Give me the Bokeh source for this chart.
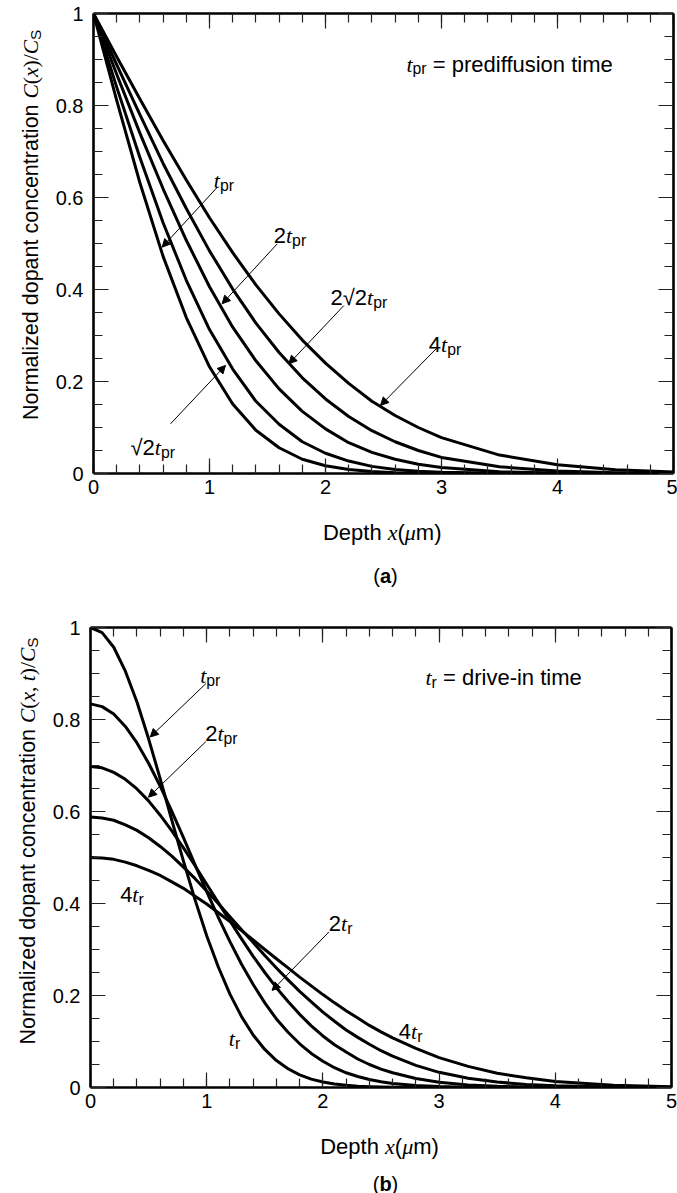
from bokeh.plotting import figure
from bokeh.models import Range1d, LinearAxis, FixedTicker, Label, Arrow, NormalHead
from bokeh.layouts import column, row
from bokeh.embed import file_html
from bokeh.resources import INLINE

# ---------------- data ----------------
# (a) prediffusion profiles, C(x)/Cs
depth_a = [0.0, 0.2, 0.4, 0.6, 0.8, 1.0, 1.2, 1.4, 1.6, 1.8, 2.0,
           2.2, 2.4, 2.6, 2.8, 3.0, 3.5, 4.0, 4.5, 5.0]
pre_tpr = [1.0, 0.811, 0.632, 0.472, 0.339, 0.232, 0.151, 0.094, 0.056, 0.031, 0.017,
           0.0085, 0.0042, 0.0019, 0.0009, 0.0004, 0.0, 0.0, 0.0, 0.0]
pre_sqrt2_tpr = [1.0, 0.840, 0.687, 0.545, 0.420, 0.313, 0.227, 0.157, 0.107, 0.069, 0.044,
                 0.027, 0.0155, 0.0088, 0.0047, 0.0025, 0.0004, 0.0, 0.0, 0.0]
pre_2tpr = [1.0, 0.868, 0.740, 0.619, 0.507, 0.406, 0.318, 0.245, 0.184, 0.135, 0.097,
            0.067, 0.046, 0.031, 0.020, 0.013, 0.0036, 0.0009, 0.0002, 0.0]
pre_2sqrt2_tpr = [1.0, 0.889, 0.780, 0.674, 0.576, 0.484, 0.401, 0.327, 0.263, 0.208, 0.162,
                  0.124, 0.093, 0.069, 0.050, 0.035, 0.0145, 0.0054, 0.0017, 0.0005]
pre_4tpr = [1.0, 0.906, 0.814, 0.724, 0.638, 0.556, 0.480, 0.410, 0.347, 0.290, 0.240,
            0.196, 0.157, 0.126, 0.100, 0.078, 0.040, 0.019, 0.0081, 0.0033]

# (b) drive-in profiles, C(x,t)/Cs
depth_b = [0.0, 0.1, 0.2, 0.3, 0.4, 0.5, 0.6, 0.7, 0.8, 0.9, 1.0, 1.1, 1.2, 1.3, 1.4,
           1.5, 1.6, 1.7, 1.8, 1.9, 2.0, 2.1, 2.2, 2.3, 2.4, 2.5, 2.6,
           2.8, 3.0, 3.25, 3.5, 3.75, 4.0, 4.5, 5.0]
drv_tpr = [1.0, 0.989, 0.957, 0.905, 0.838, 0.758, 0.671, 0.581, 0.492, 0.408, 0.330,
           0.262, 0.203, 0.154, 0.114, 0.0827, 0.0586, 0.0407, 0.0276, 0.0183, 0.0119,
           0.0075, 0.0047, 0.0028, 0.0017, 0.0010, 0.0006,
           0.0002, 0.0, 0.0, 0.0, 0.0, 0.0, 0.0, 0.0]
drv_tr = [0.834, 0.828, 0.812, 0.785, 0.749, 0.705, 0.655, 0.600, 0.543, 0.484, 0.426,
          0.370, 0.317, 0.268, 0.224, 0.184, 0.149, 0.120, 0.095, 0.074, 0.057,
          0.043, 0.032, 0.024, 0.0174, 0.0125, 0.0089,
          0.0043, 0.0020, 0.0007, 0.0002, 0.0001, 0.0, 0.0, 0.0]
drv_2tr = [0.698, 0.695, 0.685, 0.670, 0.649, 0.623, 0.592, 0.558, 0.521, 0.482, 0.442,
           0.402, 0.362, 0.323, 0.285, 0.250, 0.217, 0.187, 0.159, 0.134, 0.112,
           0.093, 0.077, 0.062, 0.050, 0.040, 0.032,
           0.0195, 0.0115, 0.0056, 0.0026, 0.0011, 0.0005, 0.0001, 0.0]
drv_3tr = [0.588, 0.586, 0.581, 0.571, 0.559, 0.543, 0.524, 0.503, 0.479, 0.454, 0.427,
           0.400, 0.371, 0.343, 0.315, 0.287, 0.260, 0.234, 0.209, 0.186, 0.164,
           0.144, 0.125, 0.109, 0.094, 0.080, 0.068,
           0.048, 0.033, 0.020, 0.0118, 0.0066, 0.0036, 0.0009, 0.0002]
drv_4tr = [0.500, 0.499, 0.496, 0.490, 0.482, 0.472, 0.461, 0.447, 0.433, 0.416, 0.399,
           0.380, 0.361, 0.341, 0.321, 0.300, 0.280, 0.260, 0.240, 0.221, 0.202,
           0.184, 0.167, 0.151, 0.135, 0.121, 0.108,
           0.085, 0.065, 0.046, 0.031, 0.021, 0.013, 0.005, 0.0017]

x_ticks = [0, 1, 2, 3, 4, 5]
x_tick_labels = ["0", "1", "2", "3", "4", "5"]
y_ticks = [0, 0.2, 0.4, 0.6, 0.8, 1]
y_tick_labels = ["0", "0.2", "0.4", "0.6", "0.8", "1"]

# ---------------- text helpers ----------------
SANS = "Liberation Sans"
SERIF = "Liberation Serif"
W_SANS = {'N': 722, 'o': 556, 'r': 333, 'm': 833, 'a': 556, 'l': 222, 'i': 222, 'z': 500,
          'e': 556, 'd': 556, 'p': 556, 'n': 556, 't': 278, 'c': 500, 's': 500, 'f': 278,
          'u': 556, 'v': 500, '-': 333, 'h': 556, 'D': 722, 'S': 667, '=': 584, ' ': 278,
          '2': 556, '4': 556, '\u221a': 549, '(': 333, ')': 333, '.': 278}
W_IT = {'t': 278, 'x': 444, 'C': 667, '\u03bc': 500, ' ': 250}
W_RM = {'(': 333, ')': 333, '/': 278, ',': 250, ' ': 250}
W_BOLD = {'a': 556, 'b': 611}
STY = {
    'sans': (SANS, 'normal', 1.0, 0.0, W_SANS),
    'it': (SERIF, 'italic', 1.0, 0.0, W_IT),
    'rm': (SERIF, 'normal', 1.0, 0.0, W_RM),
    'bold': (SANS, 'bold', 1.0, 0.0, W_BOLD),
    'sub': (SANS, 'normal', 0.72, -0.22, W_SANS),
}


def pw(txt, kind, size):
    fam, style, sc, sh, tab = STY[kind]
    return sum(tab.get(c, 556) for c in txt) / 1000.0 * size * sc


def rich(p, x, y, pieces, size, align="left", vertical=False):
    widths = [pw(t, k, size) for t, k in pieces]
    total = sum(widths)
    cum = 0.0 if align == "left" else -total / 2.0
    for (txt, kind), w in zip(pieces, widths):
        fam, style, sc, sh, tab = STY[kind]
        stripped = txt.lstrip(" ")
        lead = pw(txt[:len(txt) - len(stripped)], kind, size)
        if stripped.strip():
            pos = cum + lead
            if vertical:
                xo, yo, ang = -sh * size, pos, 1.5707963267948966
            else:
                xo, yo, ang = pos, sh * size, 0.0
            p.add_layout(Label(x=x, y=y, x_offset=xo, y_offset=yo, text=stripped.rstrip(" "),
                               angle=ang, text_font=fam, text_font_style=style,
                               text_font_size=f"{size * sc:.1f}px", text_align="left",
                               text_baseline="alphabetic", text_color="black"))
        cum += w


def arrow(p, x0, y0, x1, y1):
    p.add_layout(Arrow(x_start=x0, y_start=y0, x_end=x1, y_end=y1, line_width=1,
                       line_color="black",
                       end=NormalHead(size=8, fill_color="black", line_color="black",
                                      line_width=1)))


def tlabel(p, x, y, prefix, sub="pr"):
    pieces = []
    if prefix:
        pieces.append((prefix, 'sans'))
    pieces += [("t", 'it'), (sub, 'sub')]
    rich(p, x, y, pieces, 22)


def base_fig(width, height, top, bottom, left, right):
    p = figure(width=width, height=height, x_range=Range1d(0, 5), y_range=Range1d(0, 1),
               output_backend="svg", toolbar_location=None,
               min_border_top=top, min_border_bottom=bottom,
               min_border_left=left, min_border_right=right,
               background_fill_color="white", border_fill_color="white")
    p.grid.visible = False
    p.outline_line_color = None
    x_minor = [round(i * 0.2, 1) for i in range(26)]
    y_minor = [round(i * 0.05, 2) for i in range(21)]
    bx = p.below[0]
    ly = p.left[0]
    bx.ticker = FixedTicker(ticks=x_ticks, minor_ticks=x_minor)
    ly.ticker = FixedTicker(ticks=y_ticks, minor_ticks=y_minor)
    bx.major_label_overrides = {v: s for v, s in zip(x_ticks, x_tick_labels)}
    ly.major_label_overrides = {v: s for v, s in zip(y_ticks, y_tick_labels)}
    tx = LinearAxis(ticker=FixedTicker(ticks=x_ticks, minor_ticks=x_minor))
    ry = LinearAxis(ticker=FixedTicker(ticks=y_ticks, minor_ticks=y_minor))
    p.add_layout(tx, "above")
    p.add_layout(ry, "right")
    for ax in (bx, ly, tx, ry):
        ax.axis_line_width = 2.6
        ax.axis_line_color = "black"
        ax.major_tick_in = 15
        ax.major_tick_out = 0
        ax.minor_tick_in = 9
        ax.minor_tick_out = 0
        ax.major_tick_line_color = "#222222"
        ax.minor_tick_line_color = "#222222"
        ax.major_tick_line_width = 1.2
        ax.minor_tick_line_width = 1.2
        ax.axis_label = None
        ax.major_label_text_font = SANS
        ax.major_label_text_color = "black"
        ax.major_label_text_font_size = "20px"
    for ax in (tx, ry):
        ax.major_label_text_font_size = "1px"
        ax.major_label_text_color = None
        ax.major_label_standoff = 0
    bx.major_label_standoff = 6
    ly.major_label_standoff = 10
    return p


def strip(w, h):
    s = figure(width=w, height=h, x_range=Range1d(0, w), y_range=Range1d(h, 0),
               x_axis_location=None, y_axis_location=None, min_border=0,
               toolbar_location=None, output_backend="svg",
               background_fill_color="white", border_fill_color="white")
    s.outline_line_color = None
    s.grid.visible = False
    return s


YLAB_A = [("Normalized dopant concentration ", 'sans'), ("C", 'it'), ("(", 'rm'),
          ("x", 'it'), (")/", 'rm'), ("C", 'it'), ("S", 'sub')]
YLAB_B = [("Normalized dopant concentration ", 'sans'), ("C", 'it'), ("(", 'rm'),
          ("x", 'it'), (", ", 'rm'), ("t", 'it'), (")/", 'rm'), ("C", 'it'), ("S", 'sub')]
XLAB = [("Depth ", 'sans'), ("x", 'it'), ("(", 'sans'), ("\u03bc", 'it'), ("m)", 'sans')]

# ---------------- panel (a) ----------------
p1 = base_fig(629, 507, 13, 34, 45, 4)
for ys in (pre_tpr, pre_sqrt2_tpr, pre_2tpr, pre_2sqrt2_tpr, pre_4tpr):
    p1.line(depth_a, ys, line_color="black", line_width=3, line_join="round")

rich(p1, 2.698, 0.890, [("t", 'it'), ("pr", 'sub'), (" = prediffusion time", 'sans')], 22)
tlabel(p1, 1.037, 0.637, "")
arrow(p1, 1.066, 0.622, 0.592, 0.492)
tlabel(p1, 1.554, 0.517, "2")
arrow(p1, 1.583, 0.499, 1.109, 0.369)
tlabel(p1, 2.043, 0.383, "2\u221a2")
arrow(p1, 2.158, 0.365, 1.684, 0.2385)
tlabel(p1, 2.891, 0.281, "4")
arrow(p1, 2.957, 0.272, 2.474, 0.148)
tlabel(p1, 0.319, 0.057, "\u221a2")
arrow(p1, 0.664, 0.108, 1.138, 0.235)

ys_a = strip(48, 507)
rich(ys_a, 30, 448, YLAB_A, 21.5, align="left", vertical=True)
xs_a = strip(677, 101)
rich(xs_a, 381.7, 25, XLAB, 22, align="center")
rich(xs_a, 385, 68, [("(", 'sans'), ("a", 'bold'), (")", 'sans')], 20, align="center")

# ---------------- panel (b) ----------------
p2 = base_fig(632, 513, 19, 34, 45, 6)
for ys in (drv_tpr, drv_tr, drv_2tr, drv_3tr, drv_4tr):
    p2.line(depth_b, ys, line_color="black", line_width=3, line_join="round")

rich(p2, 2.883, 0.891, [("t", 'it'), ("r", 'sub'), (" = drive-in time", 'sans')], 22)
tlabel(p2, 0.944, 0.896, "")
arrow(p2, 0.993, 0.878, 0.514, 0.762)
tlabel(p2, 0.987, 0.769, "2")
arrow(p2, 0.993, 0.752, 0.499, 0.631)
tlabel(p2, 0.255, 0.42, "4", "r")
tlabel(p2, 2.051, 0.356, "2", "r")
arrow(p2, 2.051, 0.338, 1.563, 0.211)
tlabel(p2, 1.19, 0.106, "", "r")
tlabel(p2, 2.653, 0.122, "4", "r")

ys_b = strip(45, 513)
rich(ys_b, 27.5, 465, YLAB_B, 21.5, align="left", vertical=True)
xs_b = strip(677, 72)
rich(xs_b, 379, 25, XLAB, 22, align="center")
rich(xs_b, 385, 62, [("(", 'sans'), ("b", 'bold'), (")", 'sans')], 20, align="center")

layout = column(row(ys_a, p1, spacing=0), xs_a, row(ys_b, p2, spacing=0), xs_b, spacing=0)
open("out.html", "w").write(file_html(layout, INLINE))
